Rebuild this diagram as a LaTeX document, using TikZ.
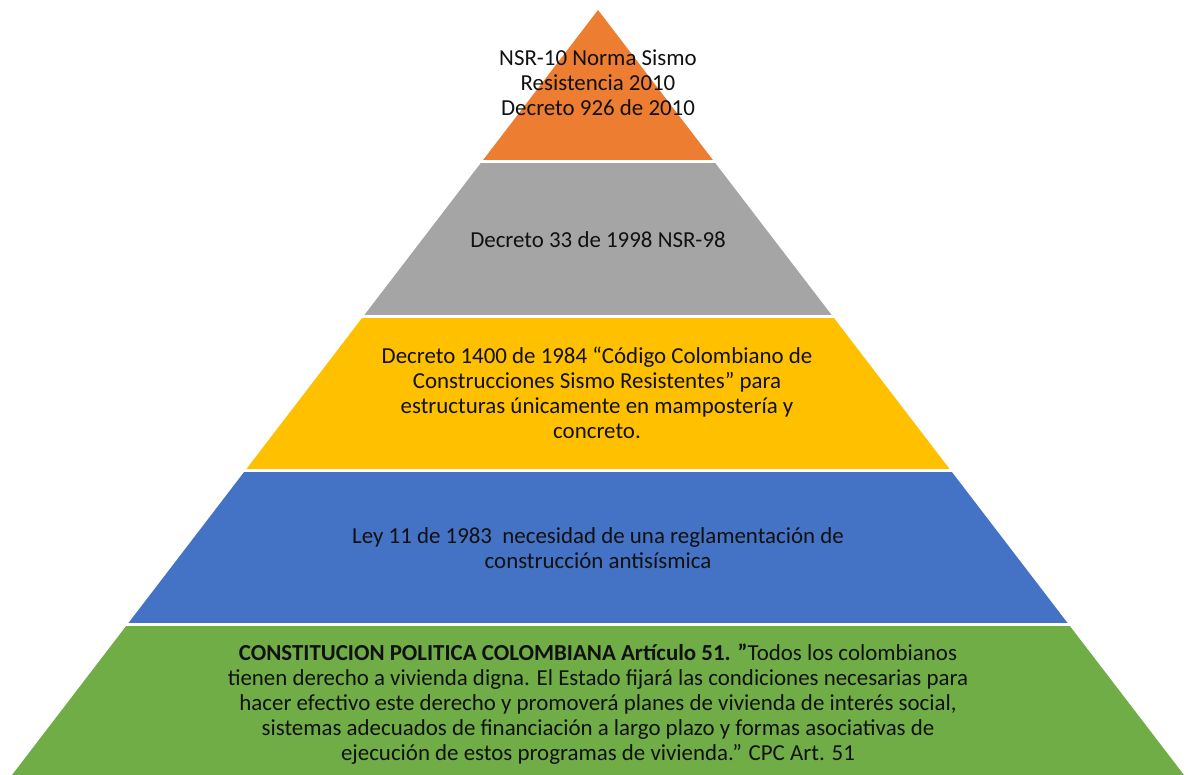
\documentclass[tikz,border=0pt]{standalone}
\usepackage{fontspec}
\setmainfont{Carlito}
\definecolor{cOrange}{HTML}{ED7D31}
\definecolor{cGray}{HTML}{A5A5A5}
\definecolor{cYellow}{HTML}{FFC000}
\definecolor{cBlue}{HTML}{4472C4}
\definecolor{cGreen}{HTML}{70AD47}
\definecolor{cText}{HTML}{111111}
\begin{document}
\begin{tikzpicture}[x=1pt,y=-1pt,
  lbl/.style={align=center, text=cText, inner sep=0pt, font=\fontsize{22.9}{25}\selectfont}]
\useasboundingbox (0,0) rectangle (1188,775);
\coordinate (apex) at (598,10);
\coordinate (bl) at (12,775);
\coordinate (br) at (1184,775);
\begin{scope}
  \clip (apex) -- (bl) -- (br) -- cycle;
  \fill[cOrange] (0,0) rectangle (1188,160.2);
  \fill[cGray] (0,162.8) rectangle (1188,315.2);
  \fill[cYellow] (0,317.8) rectangle (1188,469.2);
  \fill[cBlue] (0,471.8) rectangle (1188,623.2);
  \fill[cGreen] (0,625.8) rectangle (1188,776);
\end{scope}
\node[lbl] (t1) at (598,83) {NSR-10 Norma Sismo\\Resistencia 2010\\Decreto 926 de 2010};
\node[lbl] (t2) at (598,240) {Decreto 33 de 1998 NSR-98};
\node[lbl] (t3) at (597,393) {Decreto 1400 de 1984 “Código Colombiano de\\Construcciones Sismo Resistentes” para\\estructuras únicamente en mampostería y\\concreto.};
\node[lbl] (t4) at (598,548) {Ley 11 de 1983\ \ necesidad de una reglamentación de\\construcción antisísmica};
\node[lbl] (t5) at (598,704) {\textbf{CONSTITUCION POLITICA COLOMBIANA Artículo 51. ”}Todos los colombianos\\tienen derecho a vivienda digna. El Estado fijará las condiciones necesarias para\\hacer efectivo este derecho y promoverá planes de vivienda de interés social,\\sistemas adecuados de financiación a largo plazo y formas asociativas de\\ejecución de estos programas de vivienda.” CPC Art. 51};
\end{tikzpicture}
\end{document}
